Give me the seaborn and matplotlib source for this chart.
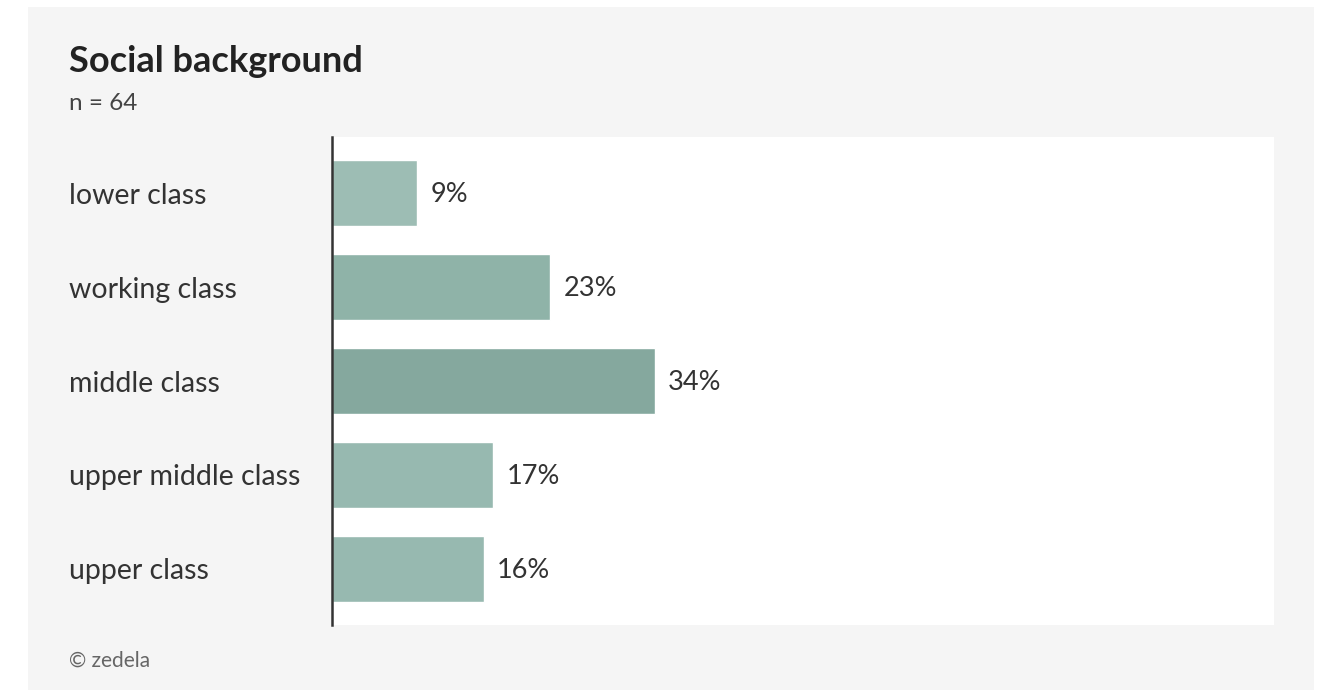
import matplotlib
matplotlib.use("Agg")
import matplotlib.pyplot as plt
from matplotlib.patches import Rectangle
import seaborn as sns
import pandas as pd

categories = ["lower class", "working class", "middle class",
              "upper middle class", "upper class"]
shares = [9, 23, 34, 17, 16]
bar_colors = ["#9dbdb4", "#8fb3a8", "#85a89e", "#97b9b0", "#97b9b0"]
title = "Social background"
subtitle = "n = 64"
footer = "\u00a9 zedela"

df = pd.DataFrame({"category": categories, "share": shares})

sns.set_theme(style="white")
plt.rcParams["font.family"] = ["Lato", "DejaVu Sans"]

W, H = 1319, 690
fig = plt.figure(figsize=(W / 100, H / 100), dpi=100, facecolor="white")

# light grey card behind everything
fig.patches.append(Rectangle((28 / W, 0), (1314 - 28) / W, (690 - 7) / H,
                             transform=fig.transFigure, facecolor="#f5f5f5",
                             edgecolor="none", zorder=-10))

ax = fig.add_axes([332 / W, (H - 625) / H, (1274 - 332) / W, (625 - 137) / H])
ax.set_facecolor("white")

sns.barplot(data=df, x="share", y="category", hue="category",
            palette=bar_colors, orient="h", width=0.70, legend=False,
            saturation=1, ax=ax)

ax.set_xlim(0, 99.2)
ax.set_ylim(4.596, -0.596)

for i, v in enumerate(shares):
    ax.text(v + 1.4, i + 0.02, f"{v}%", va="center", ha="left",
            fontsize=19.5, color="#333333")

for s in ["top", "right", "bottom"]:
    ax.spines[s].set_visible(False)
ax.spines["left"].set_color("#333333")
ax.spines["left"].set_linewidth(1.8)

ax.set_xticks([])
ax.set_xlabel("")
ax.set_ylabel("")
ax.tick_params(axis="y", length=0, pad=(332 - 69) * 0.72, labelsize=20.5,
               labelcolor="#333333")
for lab in ax.get_yticklabels():
    lab.set_horizontalalignment("left")

fig.text(69 / W, 1 - 62 / H, title, fontsize=26, fontweight="bold",
         color="#222222", va="center", ha="left")
fig.text(69 / W, 1 - 103 / H, subtitle, fontsize=17.5,
         color="#444444", va="center", ha="left")
fig.text(69 / W, 1 - 661 / H, footer, fontsize=15,
         color="#666666", va="center", ha="left")

fig.savefig("out.png", dpi=100, facecolor=fig.get_facecolor())
